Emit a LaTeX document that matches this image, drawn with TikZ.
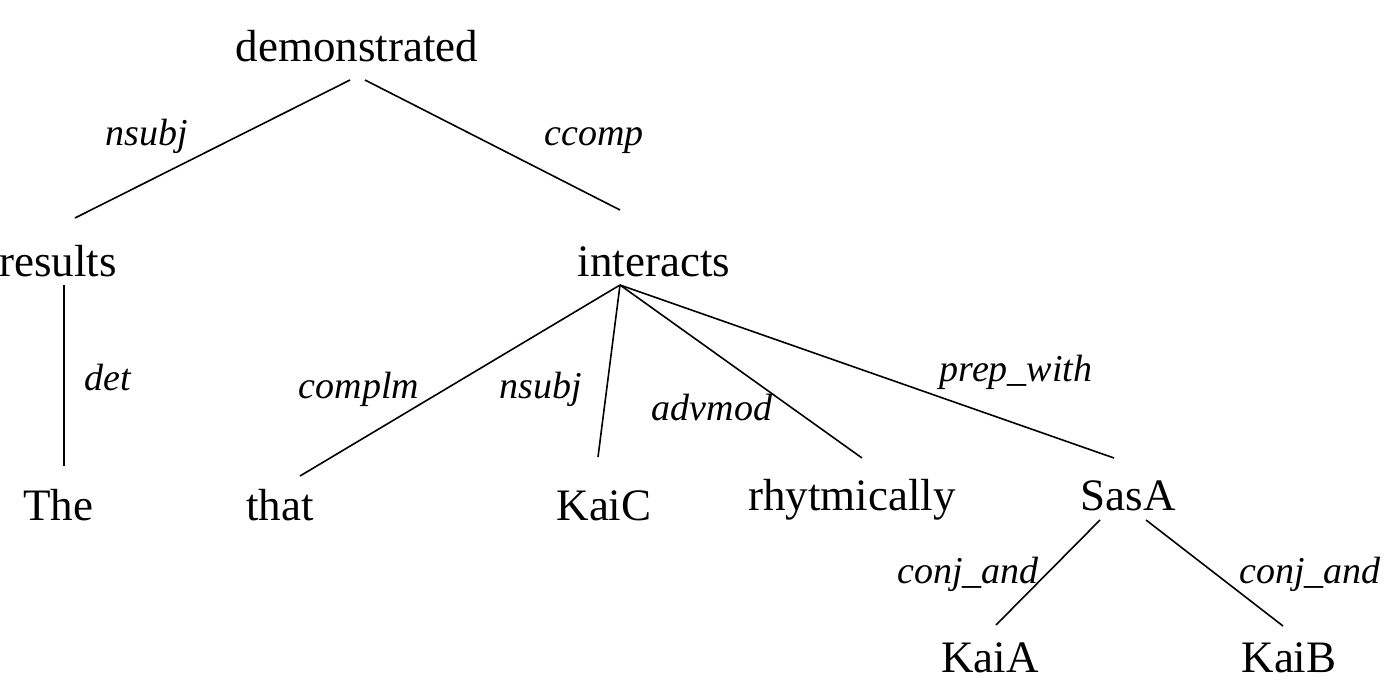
\documentclass[tikz,border=0pt]{standalone}
\usepackage{fontspec}
\setmainfont{Liberation Serif}
\begin{document}
\begin{tikzpicture}[x=1pt,y=-1pt,
  word/.style={anchor=base,inner sep=0pt,font=\fontsize{45}{54}\selectfont},
  rel/.style={anchor=base,inner sep=0pt,font=\fontsize{38}{45}\selectfont\itshape},
  edge/.style={line width=1.6pt}]
\useasboundingbox (0,0) rectangle (1390,688);
\node[word] (dem) at (357,61) {demonstrated};
\node[word] (res) at (58,276) {results};
\node[word] (int) at (654,276) {interacts};
\node[word] (the) at (58,520) {The};
\node[word] (that) at (280,520) {that};
\node[word] (kaic) at (604,520) {KaiC};
\node[word] (rhy) at (852,510) {rhytmically};
\node[word] (sasa) at (1128,510) {SasA};
\node[word] (kaia) at (990,672) {KaiA};
\node[word] (kaib) at (1289,672) {KaiB};
\coordinate (demL) at (350,80);
\coordinate (demR) at (365,80);
\coordinate (resT) at (75,218);
\coordinate (resB) at (64,285);
\coordinate (theT) at (64,466);
\coordinate (intT) at (620,210);
\coordinate (intB) at (620,285);
\coordinate (thatT) at (300,476);
\coordinate (kaicT) at (598,457);
\coordinate (rhyT) at (862,458);
\coordinate (sasaT) at (1114,458);
\coordinate (sasaL) at (1100,520);
\coordinate (sasaR) at (1146,520);
\coordinate (kaiaT) at (996,625);
\coordinate (kaibT) at (1283,626);
\draw[edge] (demL) -- (resT);
\draw[edge] (demR) -- (intT);
\draw[edge] (resB) -- (theT);
\draw[edge] (intB) -- (thatT);
\draw[edge] (intB) -- (kaicT);
\draw[edge] (intB) -- (rhyT);
\draw[edge] (intB) -- (sasaT);
\draw[edge] (sasaL) -- (kaiaT);
\draw[edge] (sasaR) -- (kaibT);
\node[rel] (l1) at (147,145) {nsubj};
\node[rel] (l2) at (594,145) {ccomp};
\node[rel] (l3) at (108,390) {det};
\node[rel] (l4) at (359,398) {complm};
\node[rel] (l5) at (541,398) {nsubj};
\node[rel] (l6) at (712,420) {advmod};
\node[rel] (l7) at (1016,381) {prep\_with};
\node[rel] (l8) at (968,583) {conj\_and};
\node[rel] (l9) at (1310,583) {conj\_and};
\end{tikzpicture}
\end{document}
